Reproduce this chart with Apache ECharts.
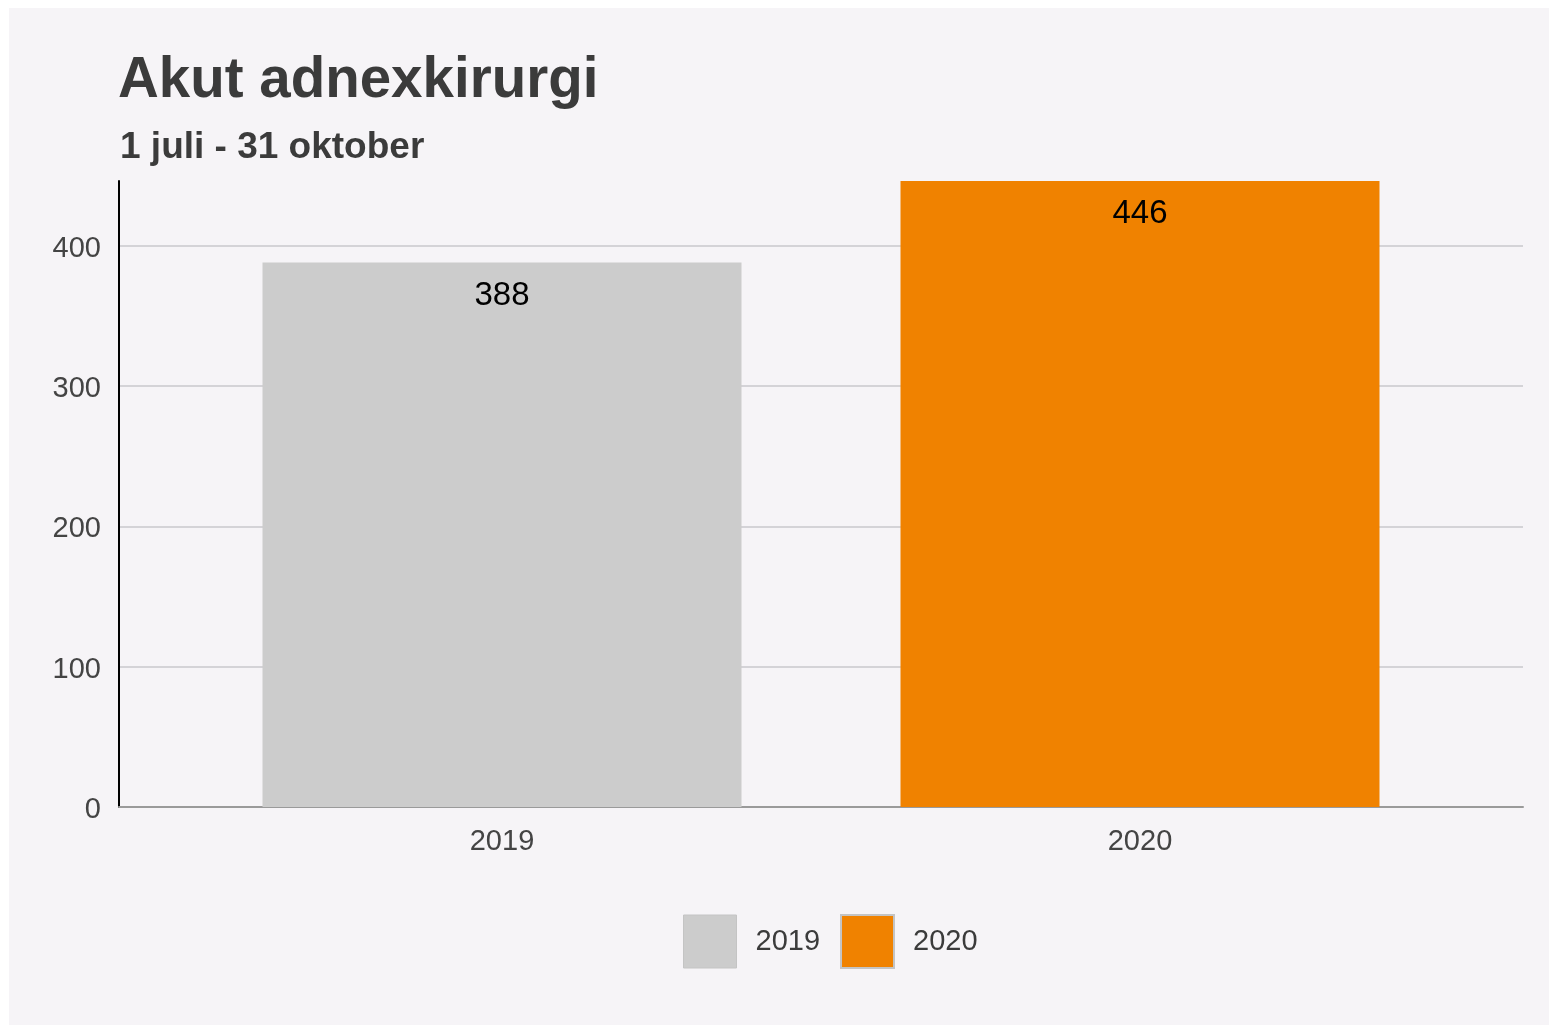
<!DOCTYPE html>
<html lang="sv">
<head>
<meta charset="UTF-8">
<title>Akut adnexkirurgi</title>
<style>
  html, body { margin: 0; padding: 0; background: #ffffff; }
  #main { position: absolute; left: 9px; top: 8px; width: 1540px; height: 1017px; background: #f6f4f7; }
</style>
</head>
<body>
<div id="main"></div>
<script src="https://cdn.jsdelivr.net/npm/echarts@6/dist/echarts.min.js"></script>
<script>
// data
var categories = ['2019', '2020'];
var values2019 = [388, '-'];
var values2020 = ['-', 446];
var yMax = 446;
var yStep = 100;

var font = '"Liberation Sans", Arial, sans-serif';
var chart = echarts.init(document.getElementById('main'));

var option = {
  backgroundColor: '#f6f4f7',
  animation: false,
  title: [
    { text: 'Akut adnexkirurgi', left: 104, top: 40,
      textStyle: { fontFamily: font, fontSize: 56.5, fontWeight: 'bold', color: '#3b3b3b' } },
    { text: '1 juli - 31 oktober', left: 106, top: 116,
      textStyle: { fontFamily: font, fontSize: 37, fontWeight: 'bold', color: '#3b3b3b' } }
  ],
  legend: {
    left: 669, top: 901,
    itemWidth: 53, itemHeight: 53, itemGap: 20,
    icon: 'rect',
    textStyle: { fontFamily: font, fontSize: 29, color: '#3b3b3b', padding: [0, 0, 0, 14] },
    data: [
      { name: '2019', itemStyle: { borderColor: '#c4c4c4', borderWidth: 1 } },
      { name: '2020', itemStyle: { borderColor: '#c4c4c4', borderWidth: 2 } }
    ]
  },
  grid: [
    // full-width grid: axis lines, gridlines, y labels
    { left: 110, right: 26, top: 173, bottom: 218 },
    // inner grid for the bars
    { left: 174, right: 90, top: 173, bottom: 218 }
  ],
  xAxis: [
    { type: 'category', gridIndex: 0, data: categories,
      axisLine: { show: true, lineStyle: { color: '#9a9a9a', width: 2 } },
      axisTick: { show: false }, axisLabel: { show: false } },
    { type: 'category', gridIndex: 1, data: categories,
      axisLine: { show: false }, axisTick: { show: false },
      axisLabel: { fontFamily: font, fontSize: 29, color: '#444444', margin: 20 } }
  ],
  yAxis: [
    { type: 'value', gridIndex: 0, min: 0, max: yMax, interval: yStep,
      axisLine: { show: true, lineStyle: { color: '#000000', width: 2 } },
      axisTick: { show: false },
      axisLabel: { fontFamily: font, fontSize: 29, color: '#444444', margin: 18,
        verticalAlign: 'top', lineHeight: 6,
        formatter: function (v) { return v % yStep === 0 ? v : ''; } },
      splitLine: { show: true, showMaxLine: false, lineStyle: { color: '#d4d3d7', width: 2 } } },
    { type: 'value', gridIndex: 1, min: 0, max: yMax, interval: yStep,
      axisLine: { show: false }, axisTick: { show: false },
      axisLabel: { show: false }, splitLine: { show: false } }
  ],
  series: [
    { name: '2019', type: 'bar', stack: 'total', xAxisIndex: 1, yAxisIndex: 1,
      barWidth: 479, data: values2019,
      itemStyle: { color: '#cccccc' },
      label: { show: true, position: 'insideTop', distance: 17,
        fontFamily: font, fontSize: 33, color: '#000000' } },
    { name: '2020', type: 'bar', stack: 'total', xAxisIndex: 1, yAxisIndex: 1,
      barWidth: 479, data: values2020,
      itemStyle: { color: '#f08200' },
      label: { show: true, position: 'insideTop', distance: 16,
        fontFamily: font, fontSize: 33, color: '#000000' } }
  ]
};

chart.setOption(option);
</script>
</body>
</html>
